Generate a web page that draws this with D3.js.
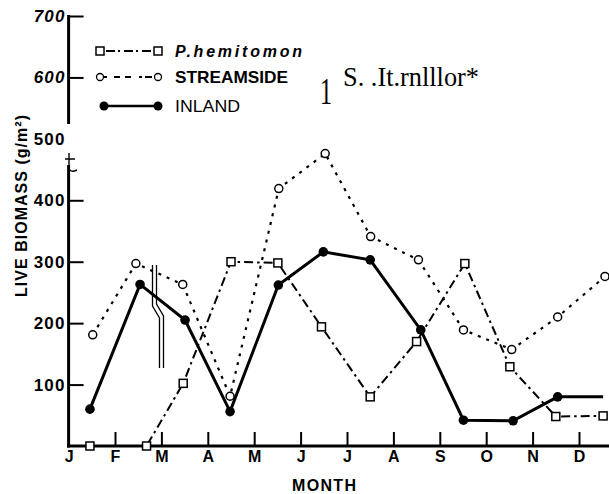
<!DOCTYPE html>
<html><head><meta charset="utf-8">
<script src="https://cdn.jsdelivr.net/npm/d3@7"></script>
<style>
html,body{margin:0;padding:0;background:#fff;}
svg{display:block;font-family:"Liberation Sans",Arial,sans-serif;}
</style></head>
<body>
<script>
// ---- data (months as fractional position, 0 = start of January) ----
const monthLabels = ["J","F","M","A","M","J","J","A","S","O","N","D"];
const yTickValues = [100,200,300,400,500,600,700];

const hemiMonths = [0.46,1.68,2.47,3.50,4.51,5.45,6.50,7.50,8.54,9.51,10.50,11.52];
const hemiValues = [0,0,102,300,298,194,80,170,297,129,48,49];

const streamMonths = [0.52,1.45,2.46,3.48,4.53,5.53,6.51,7.54,8.51,9.55,10.54,11.56];
const streamValues = [181,297,263,81,419,476,341,303,189,157,210,276];

const inlandMonths = [0.46,1.54,2.51,3.48,4.52,5.49,6.50,7.59,8.51,9.58,10.54];
const inlandValues = [60,263,205,56,262,316,303,189,42,41,80];
const inlandTailMonth = 11.52;   // line continues without a marker
const inlandTailValue = 80;

const legendLabels = ["P.hemitomon","STREAMSIDE","INLAND"];
const strayText = ["1","S. .It.rnlllor*"];

// ---- drawing ----
const W = 609, H = 494;
const svg = d3.select("body").append("svg").attr("width",W).attr("height",H);

const x = d3.scaleLinear().domain([0,12]).range([68.6, 68.6+12*46.4]);
const y = d3.scaleLinear().domain([0,700]).range([446,16]);

// Y axis (ticks pointing inward, labels left)
const yAx = svg.append("g").attr("transform",`translate(${x(0)},0)`)
  .call(d3.axisLeft(y).tickValues(yTickValues).tickSizeInner(-15).tickSizeOuter(0).tickPadding(3));
yAx.attr("font-family",null).attr("font-size",null);
yAx.select(".domain").remove();
yAx.selectAll(".tick line").attr("stroke","#000").attr("stroke-width",2)
  .filter(d=>d===500).remove();
yAx.selectAll(".tick text").attr("font-size",17).attr("font-weight","bold")
  .attr("letter-spacing",1.2).attr("fill","#000")
  .attr("font-style",d=>d>=600?"italic":"normal");

// Y axis line with a break
svg.append("line").attr("x1",x(0)).attr("x2",x(0)).attr("y1",y(700)-1).attr("y2",124)
  .attr("stroke","#000").attr("stroke-width",3);
svg.append("line").attr("x1",x(0)).attr("x2",x(0)).attr("y1",165).attr("y2",y(0)+1.5)
  .attr("stroke","#000").attr("stroke-width",3);
svg.append("path").attr("d","M69,153 L69,169 Q71,173 77,170 M65,159 L75,159")
  .attr("fill","none").attr("stroke","#000").attr("stroke-width",1.4);

// X axis
const xAx = svg.append("g").attr("transform",`translate(0,${y(0)})`)
  .call(d3.axisBottom(x).tickValues(d3.range(12)).tickFormat(i=>monthLabels[i])
    .tickSizeInner(-14).tickSizeOuter(0).tickPadding(5));
xAx.attr("font-family",null).attr("font-size",null);
xAx.select(".domain").remove();
xAx.selectAll(".tick line").attr("stroke","#000").attr("stroke-width",2)
  .filter(d=>d===0).remove();
xAx.selectAll(".tick text").attr("font-size",16).attr("font-weight","bold").attr("fill","#000");
svg.append("line").attr("x1",x(0)-1.5).attr("x2",W).attr("y1",y(0)).attr("y2",y(0))
  .attr("stroke","#000").attr("stroke-width",3);

// axis titles
svg.append("text").attr("x",324).attr("y",491).attr("text-anchor","middle")
  .attr("font-size",16).attr("font-weight","bold").attr("textLength",64)
  .attr("lengthAdjust","spacing").text("MONTH");
svg.append("text").attr("transform","translate(27,206) rotate(-90)").attr("text-anchor","middle")
  .attr("font-size",16).attr("font-weight","bold").attr("textLength",182)
  .attr("lengthAdjust","spacing").text("LIVE BIOMASS (g/m²)");

// series
const line = d3.line().x(d=>x(d[0])).y(d=>y(d[1]));
const hemi = hemiMonths.map((m,i)=>[m,hemiValues[i]]);
const stream = streamMonths.map((m,i)=>[m,streamValues[i]]);
const inland = inlandMonths.map((m,i)=>[m,inlandValues[i]]);

svg.append("path").datum(stream).attr("d",line).attr("fill","none")
  .attr("stroke","#000").attr("stroke-width",2.2).attr("stroke-dasharray","3,6");
svg.append("path").datum(hemi).attr("d",line).attr("fill","none")
  .attr("stroke","#000").attr("stroke-width",2).attr("stroke-dasharray","9,4,2.5,4");
svg.append("path").datum(inland.concat([[inlandTailMonth,inlandTailValue]])).attr("d",line)
  .attr("fill","none").attr("stroke","#000").attr("stroke-width",3);

svg.selectAll(".sq").data(hemi).join("rect").attr("class","sq")
  .attr("x",d=>x(d[0])-4).attr("y",d=>y(d[1])-4).attr("width",8).attr("height",8)
  .attr("fill","#fff").attr("stroke","#000").attr("stroke-width",1.5);
svg.selectAll(".oc").data(stream).join("circle").attr("class","oc")
  .attr("cx",d=>x(d[0])).attr("cy",d=>y(d[1])).attr("r",4)
  .attr("fill","#fff").attr("stroke","#000").attr("stroke-width",1.5);
svg.selectAll(".fc").data(inland).join("circle").attr("class","fc")
  .attr("cx",d=>x(d[0])).attr("cy",d=>y(d[1])).attr("r",4.8).attr("fill","#000");

// legend
const lg = svg.append("g");
const rows = [51,77,106];
lg.append("line").attr("x1",100).attr("x2",158).attr("y1",rows[0]).attr("y2",rows[0])
  .attr("stroke","#000").attr("stroke-width",1.8).attr("stroke-dasharray","2,4,9,3");
lg.selectAll(".lsq").data([100,158]).join("rect").attr("x",d=>d-4).attr("y",rows[0]-4)
  .attr("width",8).attr("height",8).attr("fill","#fff").attr("stroke","#000").attr("stroke-width",1.5);
lg.append("line").attr("x1",104).attr("x2",154).attr("y1",rows[1]).attr("y2",rows[1])
  .attr("stroke","#000").attr("stroke-width",2).attr("stroke-dasharray","3,7,6,5,6,8,3");
lg.selectAll(".lc").data([100,158]).join("circle").attr("cx",d=>d).attr("cy",rows[1]).attr("r",3.5)
  .attr("fill","#fff").attr("stroke","#000").attr("stroke-width",1.3);
lg.append("line").attr("x1",104).attr("x2",158).attr("y1",rows[2]).attr("y2",rows[2])
  .attr("stroke","#000").attr("stroke-width",2.5);
lg.selectAll(".lf").data([104,158]).join("circle").attr("cx",d=>d).attr("cy",rows[2]).attr("r",4.5).attr("fill","#000");

lg.append("text").attr("x",175).attr("y",rows[0]+6).attr("font-size",16).attr("font-weight","bold")
  .attr("font-style","italic").attr("textLength",127).attr("lengthAdjust","spacing").text(legendLabels[0]);
lg.append("text").attr("x",175).attr("y",rows[1]+6).attr("font-size",17).attr("font-weight","bold")
  .attr("textLength",113).attr("lengthAdjust","spacingAndGlyphs").text(legendLabels[1]);
lg.append("text").attr("x",175).attr("y",rows[2]+6).attr("font-size",16)
  .attr("textLength",65).attr("lengthAdjust","spacingAndGlyphs").text(legendLabels[2]);

// stray scanned text
svg.append("text").attr("x",320).attr("y",104).attr("font-family","Liberation Serif")
  .attr("font-size",38).attr("textLength",12).attr("lengthAdjust","spacingAndGlyphs").text(strayText[0]);
svg.append("text").attr("x",343).attr("y",86).attr("font-family","Liberation Serif")
  .attr("font-size",27).attr("textLength",136).attr("lengthAdjust","spacingAndGlyphs").text(strayText[1]);

// stray scan artifact near March
svg.append("path").attr("d","M152.5,265 L152.5,306 L159.5,318 L159.5,368 M156.5,265 L156.5,304 L163.5,316 L163.5,368")
  .attr("fill","none").attr("stroke","#000").attr("stroke-width",1.3);
</script>
</body></html>
